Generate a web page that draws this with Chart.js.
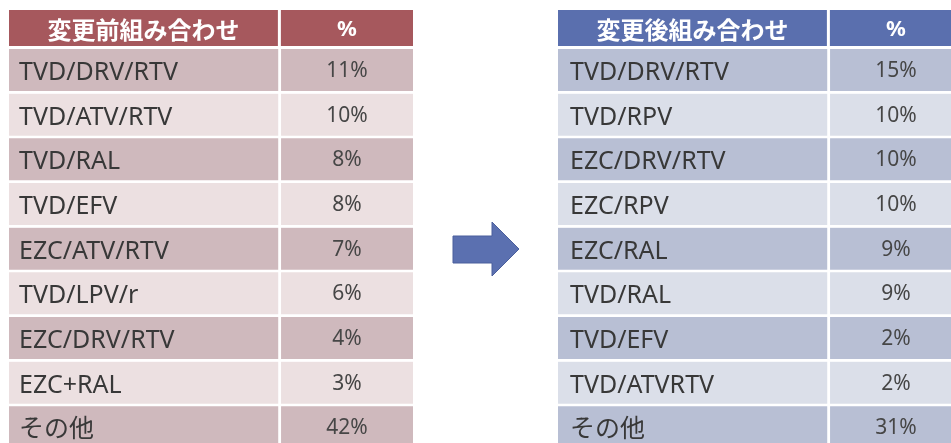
<!DOCTYPE html>
<html>
<head>
<meta charset="utf-8">
<script src="https://cdn.jsdelivr.net/npm/chart.js@4"></script>
<style>
  html, body { margin: 0; padding: 0; background: #fff; overflow: hidden; }
  body { width: 951px; height: 443px; position: relative; }
  .tbl { position: absolute; top: 10px; width: 404px; height: 441px; }
  #leftBox { left: 9px; }
  #rightBox { left: 558px; }
  #arrow { position: absolute; left: 0; top: 0; }
</style>
</head>
<body>
<div class="tbl" id="leftBox"><canvas id="leftChart"></canvas></div>
<div class="tbl" id="rightBox"><canvas id="rightChart"></canvas></div>
<svg id="arrow" width="951" height="443">
  <polygon points="453,236 492,236 492,222 519,249 492,276 492,263 453,263" fill="#5b70b0" stroke="#4b5f9c" stroke-width="1"/>
</svg>
<script>
// table contents
const beforeHeader = ['変更前組み合わせ', '%'];
const beforeLabels = ['TVD/DRV/RTV','TVD/ATV/RTV','TVD/RAL','TVD/EFV','EZC/ATV/RTV','TVD/LPV/r','EZC/DRV/RTV','EZC+RAL','その他'];
const beforePct = [11, 10, 8, 8, 7, 6, 4, 3, 42];

const afterHeader = ['変更後組み合わせ', '%'];
const afterLabels = ['TVD/DRV/RTV','TVD/RPV','EZC/DRV/RTV','EZC/RPV','EZC/RAL','TVD/RAL','TVD/EFV','TVD/ATVRTV','その他'];
const afterPct = [15, 10, 10, 10, 9, 9, 2, 2, 31];

const SPLIT = 0.673; // where the % column starts (share of table width)
const GAP = 3;

const labelFont = '25px "Noto Sans", "Noto Sans CJK JP", sans-serif';
const pctFont = '21px "Noto Sans", sans-serif';
const headFont = 'bold 24px "Noto Sans CJK JP", sans-serif';
const headPctFont = 'bold 22px "Noto Sans", sans-serif';

function makeTable(canvasId, header, labels, pct, colors, pad){
    const tablePlugin = {
        id: 'tableText',
        beforeDatasetsDraw(chart){
            const {ctx, chartArea, scales:{x}} = chart;
            const x0 = x.getPixelForValue(0), xs = x.getPixelForValue(SPLIT), x1 = x.getPixelForValue(1);
            const h = chartArea.top - GAP;
            ctx.save();
            ctx.fillStyle = colors.head;
            ctx.fillRect(x0, 0, xs - x0 - GAP, h);
            ctx.fillRect(xs, 0, x1 - xs, h);
            ctx.fillStyle = '#fff';
            ctx.textAlign = 'center';
            ctx.textBaseline = 'middle';
            ctx.font = headFont;
            ctx.fillText(header[0], (x0 + xs - GAP) / 2, h / 2 + 2);
            ctx.font = headPctFont;
            ctx.fillText(header[1], (xs + x1) / 2, h / 2 + 2);
            ctx.restore();
        },
        afterDatasetsDraw(chart){
            const {ctx, scales:{x, y}} = chart;
            const x0 = x.getPixelForValue(0), xs = x.getPixelForValue(SPLIT), x1 = x.getPixelForValue(1);
            ctx.save();
            ctx.textBaseline = 'alphabetic';
            labels.forEach((lab, i) => {
                const cy = y.getPixelForValue(i) - GAP / 2;
                ctx.fillStyle = '#383838';
                ctx.textAlign = 'left';
                ctx.font = labelFont;
                ctx.fillText(lab, x0 + pad, cy + 10);
                ctx.fillStyle = '#464646';
                ctx.textAlign = 'center';
                ctx.font = pctFont;
                ctx.fillText(pct[i] + '%', (xs + x1) / 2, cy + 7);
            });
            ctx.restore();
        }
    };
    const rowColor = c => c.dataIndex % 2 ? colors.light : colors.dark;
    return new Chart(document.getElementById(canvasId), {
        type: 'bar',
        data: {
            labels: labels,
            datasets: [
                { data: labels.map(() => [0, SPLIT]), backgroundColor: rowColor,
                  borderColor: '#fff', borderWidth: {top:0, left:0, right:GAP, bottom:GAP}, borderSkipped: false },
                { data: labels.map(() => [SPLIT, 1]), backgroundColor: rowColor,
                  borderColor: '#fff', borderWidth: {top:0, left:0, right:0, bottom:GAP}, borderSkipped: false }
            ]
        },
        options: {
            indexAxis: 'y',
            responsive: true,
            maintainAspectRatio: false,
            animation: false,
            layout: { padding: { top: 39, left: 0, right: 0, bottom: 0 } },
            datasets: { bar: { grouped: false, barPercentage: 1, categoryPercentage: 1 } },
            scales: {
                x: { type: 'linear', min: 0, max: 1, display: false },
                y: { display: false, grid: { display: false } }
            },
            plugins: { legend: { display: false }, tooltip: { enabled: false } }
        },
        plugins: [tablePlugin]
    });
}

makeTable('leftChart', beforeHeader, beforeLabels, beforePct,
    { head: '#a6585d', dark: '#cfb9bd', light: '#ece0e1' }, 10);
makeTable('rightChart', afterHeader, afterLabels, afterPct,
    { head: '#5a6fae', dark: '#b8bfd4', light: '#dbdfe9' }, 12);
</script>
</body>
</html>
